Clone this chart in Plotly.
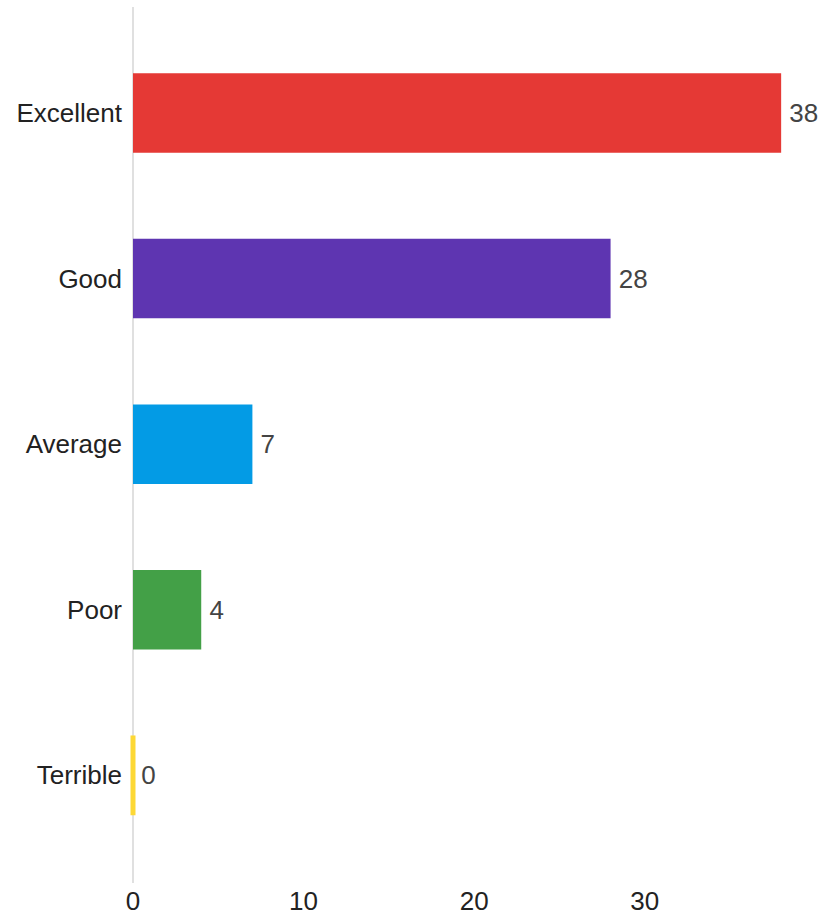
import plotly.graph_objects as go

# Survey ratings and response counts
categories = ["Excellent", "Good", "Average", "Poor", "Terrible"]
counts = [38, 28, 7, 4, 0]
colors = ["#e53935", "#5e35b1", "#039be5", "#43a047", "#fdd835"]
x_ticks = [0, 10, 20, 30]

FONT = "Liberation Sans, Arial, sans-serif"

fig = go.Figure()

fig.add_trace(
    go.Bar(
        x=counts,
        y=categories,
        orientation="h",
        width=0.48,
        marker=dict(color=colors, line=dict(width=0)),
        text=["\u2009" + str(c) for c in counts],
        textposition="outside",
        textfont=dict(family=FONT, size=26, color="#444444"),
        cliponaxis=False,
        hoverinfo="x+y",
    )
)

# categories with zero responses get a thin sliver so they stay visible
zero_y = [cat for cat, c in zip(categories, counts) if c == 0]
zero_x = [c for c in counts if c == 0]
zero_col = [col for col, c in zip(colors, counts) if c == 0]
fig.add_trace(
    go.Scatter(
        x=zero_x,
        y=zero_y,
        mode="markers",
        marker=dict(symbol="line-ns", size=57, line=dict(color=zero_col, width=5)),
        cliponaxis=False,
        hoverinfo="skip",
    )
)

fig.update_layout(
    width=834,
    height=915,
    margin=dict(l=133, r=52, t=7, b=32),
    paper_bgcolor="white",
    plot_bgcolor="white",
    showlegend=False,
    font=dict(family=FONT, size=26, color="#222222"),
)

fig.update_xaxes(
    range=[0, 38.05],
    tickmode="array",
    tickvals=x_ticks,
    ticktext=[str(t) for t in x_ticks],
    showgrid=False,
    zeroline=True,
    zerolinecolor="#e0e0e0",
    zerolinewidth=2,
    showline=False,
    ticks="",
    automargin=False,
    tickfont=dict(size=26, color="#222222"),
)

fig.update_yaxes(
    type="category",
    categoryorder="array",
    categoryarray=categories,
    range=[4.65, -0.64],
    showgrid=False,
    zeroline=False,
    showline=False,
    ticks="",
    ticklabelstandoff=10,
    automargin=False,
    tickfont=dict(size=26, color="#222222"),
)

fig.write_html("out.html")
